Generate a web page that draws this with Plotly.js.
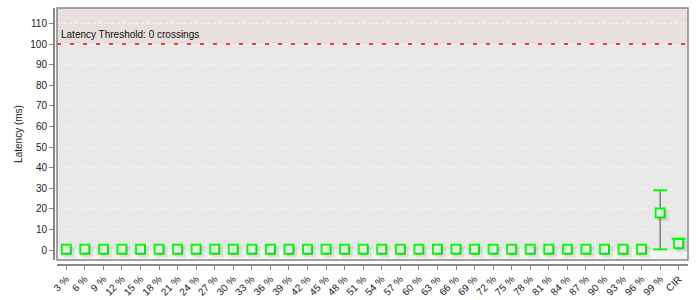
<!DOCTYPE html>
<html>
<head>
<meta charset="utf-8">
<script src="https://cdn.plot.ly/plotly-3.0.1.min.js"></script>
<style>html,body{margin:0;padding:0;background:#fff;}#chart{width:700px;height:300px;}</style>
</head>
<body>
<div id="chart"></div>
<script>
// ---- data ----
var categories = ['3 %','6 %','9 %','12 %','15 %','18 %','21 %','24 %','27 %','30 %','33 %','36 %','39 %','42 %','45 %','48 %','51 %','54 %','57 %','60 %','63 %','66 %','69 %','72 %','75 %','78 %','81 %','84 %','87 %','90 %','93 %','96 %','99 %','CIR'];
var medianMs = [0.4,0.4,0.4,0.4,0.4,0.4,0.4,0.4,0.4,0.4,0.4,0.4,0.4,0.4,0.4,0.4,0.4,0.4,0.4,0.4,0.4,0.4,0.4,0.4,0.4,0.4,0.4,0.4,0.4,0.4,0.4,0.4,18,3];
var lowMs    = [0.4,0.4,0.4,0.4,0.4,0.4,0.4,0.4,0.4,0.4,0.4,0.4,0.4,0.4,0.4,0.4,0.4,0.4,0.4,0.4,0.4,0.4,0.4,0.4,0.4,0.4,0.4,0.4,0.4,0.4,0.4,0.4,0.3,1.5];
var highMs   = [0.4,0.4,0.4,0.4,0.4,0.4,0.4,0.4,0.4,0.4,0.4,0.4,0.4,0.4,0.4,0.4,0.4,0.4,0.4,0.4,0.4,0.4,0.4,0.4,0.4,0.4,0.4,0.4,0.4,0.4,0.4,0.4,29,5.5];
var thresholdMs = 100;
var thresholdLabel = 'Latency Threshold: 0 crossings';
var yTicks = [0,10,20,30,40,50,60,70,80,90,100,110];

// caps only where there is spread
var capX = [], capY = [];
for (var i = 0; i < categories.length; i++) {
  if (highMs[i] > medianMs[i]) { capX.push(categories[i]); capY.push(highMs[i]); }
  if (lowMs[i] < medianMs[i] && highMs[i] - lowMs[i] > 5) { capX.push(categories[i]); capY.push(lowMs[i]); }
}
var errPlus = highMs.map(function(h, i){ return h - medianMs[i]; });
var errMinus = lowMs.map(function(l, i){ return medianMs[i] - l; });

var font = 'Liberation Sans, Arial, sans-serif';
var yRange = [-4.85, 117.5];
var xRange = [-0.5, categories.length - 0.5];

var traces = [
  // shadows
  {type:'scatter', mode:'markers', x:categories, y:medianMs, xaxis:'x2', yaxis:'y2',
   marker:{symbol:'square', size:11, color:'rgba(0,0,0,0.09)', line:{width:0}}, hoverinfo:'skip', showlegend:false},
  // whiskers
  {type:'scatter', mode:'markers', x:categories, y:medianMs,
   error_y:{type:'data', symmetric:false, array:errPlus, arrayminus:errMinus, color:'#808080', thickness:1.5, width:0},
   marker:{size:0.1, color:'rgba(0,0,0,0)'}, hoverinfo:'skip', showlegend:false},
  // caps
  {type:'scatter', mode:'markers', x:capX, y:capY,
   marker:{symbol:'line-ew', size:10, line:{color:'#00ff00', width:2}}, hoverinfo:'skip', showlegend:false},
  // boxes
  {type:'scatter', mode:'markers', x:categories, y:medianMs,
   marker:{symbol:'square', size:9, color:'#ffffff', line:{color:'#00ff00', width:2}}, showlegend:false}
];

var W = 700, H = 300;
var ml = 53, mr = 12, mt = 8, mb = 36;
var pw = W - ml - mr, ph = H - mt - mb;
var dx = 4 / pw, dy = 4 / ph;

var layout = {
  width: W, height: H,
  margin:{l:ml, r:mr, t:mt, b:mb, pad:0},
  paper_bgcolor:'#ffffff',
  plot_bgcolor:'#e8e8e8',
  showlegend:false,
  font:{family:font, size:10, color:'#222'},
  xaxis:{
    type:'category', categoryorder:'array', categoryarray:categories,
    domain:[dx, 1], anchor:'free', position:0, range:xRange,
    showgrid:false, zeroline:false, showline:true, linecolor:'#888', linewidth:1.5,
    ticks:'outside', ticklen:4, tickcolor:'#888', tickangle:-45,
    tickfont:{family:font, size:10, color:'#222'}, automargin:false
  },
  yaxis:{
    domain:[dy, 1], anchor:'free', position:0, range:yRange,
    tickvals:yTicks, ticktext:yTicks.map(String),
    showgrid:true, gridcolor:'#f3f3f3', griddash:'3px,3px', gridwidth:1,
    zeroline:false, showline:true, linecolor:'#888', linewidth:1.5,
    ticks:'outside', ticklen:4, tickcolor:'#888',
    tickfont:{family:font, size:10, color:'#222'}, automargin:false,
    title:{text:'Latency (ms)', font:{family:font, size:10, color:'#222'}, standoff:4}
  },
  xaxis2:{type:'category', categoryorder:'array', categoryarray:categories, overlaying:'x', anchor:'y2',
    range:[xRange[0] - 0.15, xRange[1] - 0.15], visible:false},
  yaxis2:{overlaying:'y', anchor:'x2', range:[yRange[0] + 1.3, yRange[1] + 1.3], visible:false},
  shapes:[
    {type:'rect', layer:'below', xref:'x domain', yref:'y', x0:0, x1:1, y0:thresholdMs, y1:yRange[1],
     fillcolor:'#e8dfdf', line:{width:0}},
    {type:'rect', layer:'below', xref:'x domain', yref:'y', x0:0, x1:1, y0:yRange[0], y1:-0.3,
     fillcolor:'#f3f3f3', line:{width:0}},
    {type:'line', layer:'above', xref:'x domain', yref:'y', x0:0, x1:1, y0:thresholdMs, y1:thresholdMs,
     line:{color:'#ff0000', width:1.5, dash:'4px,9px'}},
    {type:'rect', layer:'above', xref:'x domain', yref:'y domain', x0:0, x1:1, y0:0, y1:1,
     line:{color:'#888', width:1.5}, fillcolor:'rgba(0,0,0,0)'}
  ],
  annotations:[
    {xref:'x domain', yref:'y', x:0, y:thresholdMs, xanchor:'left', yanchor:'bottom', xshift:2, yshift:2,
     showarrow:false, text:thresholdLabel, font:{family:font, size:10, color:'#111'}}
  ]
};

Plotly.newPlot('chart', traces, layout, {displayModeBar:false, staticPlot:true});
</script>
</body>
</html>
